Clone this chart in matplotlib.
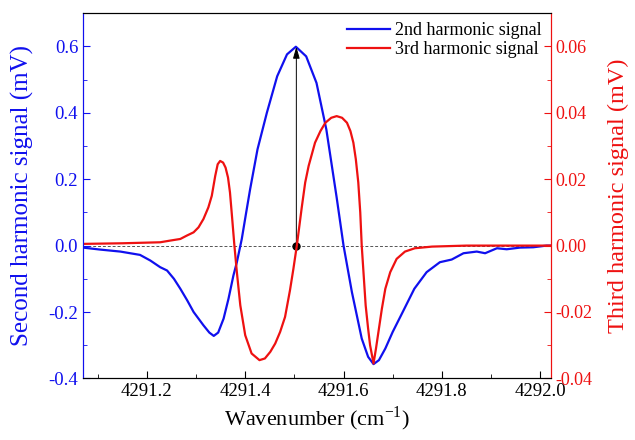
import matplotlib
matplotlib.use("Agg")
import matplotlib.pyplot as plt
from matplotlib.ticker import MultipleLocator

# ---- data ----
wn_2f = [4291.064, 4291.105, 4291.146, 4291.186, 4291.207, 4291.227, 4291.241, 4291.255,
         4291.268, 4291.282, 4291.295, 4291.315, 4291.327, 4291.336, 4291.345, 4291.356,
         4291.366, 4291.376, 4291.383, 4291.393, 4291.402, 4291.41, 4291.425, 4291.444,
         4291.465, 4291.485, 4291.503, 4291.524, 4291.545, 4291.565, 4291.586, 4291.600,
         4291.617, 4291.637, 4291.650, 4291.661, 4291.672, 4291.685, 4291.700, 4291.717,
         4291.744, 4291.769, 4291.796, 4291.820, 4291.844, 4291.871, 4291.888, 4291.912,
         4291.932, 4291.959, 4291.986, 4292.013, 4292.022]
sig_2f = [-0.005, -0.012, -0.018, -0.028, -0.045, -0.065, -0.075, -0.10,
          -0.13, -0.165, -0.20, -0.24, -0.262, -0.272, -0.262, -0.22,
          -0.16, -0.09, -0.05, 0.02, 0.10, 0.17, 0.29, 0.40,
          0.51, 0.576, 0.599, 0.57, 0.49, 0.35, 0.145, 0.0,
          -0.14, -0.28, -0.335, -0.357, -0.345, -0.31, -0.26, -0.21,
          -0.13, -0.08, -0.05, -0.042, -0.023, -0.018, -0.023, -0.008,
          -0.011, -0.006, -0.005, 0.0, 0.0]

wn_3f = [4291.064, 4291.15, 4291.227, 4291.247, 4291.268, 4291.281, 4291.295, 4291.305,
         4291.315, 4291.325, 4291.332, 4291.339, 4291.344, 4291.349, 4291.355, 4291.36,
         4291.365, 4291.369, 4291.373, 4291.378, 4291.383, 4291.39, 4291.40, 4291.413,
         4291.429, 4291.44, 4291.451, 4291.461, 4291.471, 4291.481, 4291.491, 4291.498,
         4291.505, 4291.515, 4291.522, 4291.529, 4291.542, 4291.553, 4291.563, 4291.575,
         4291.586, 4291.597, 4291.607, 4291.614, 4291.62, 4291.625, 4291.63, 4291.634,
         4291.637, 4291.641, 4291.645, 4291.65, 4291.654, 4291.661, 4291.666, 4291.671,
         4291.678, 4291.685, 4291.695, 4291.708, 4291.725, 4291.745, 4291.78, 4291.85,
         4292.022]
sig_3f = [0.0005, 0.0007, 0.001, 0.0015, 0.002, 0.003, 0.004, 0.0055,
          0.008, 0.0115, 0.015, 0.021, 0.0245, 0.0255, 0.025, 0.0235,
          0.0205, 0.016, 0.009, 0.0, -0.008, -0.018, -0.027, -0.0325,
          -0.0345, -0.034, -0.032, -0.0295, -0.026, -0.0215, -0.0135, -0.007,
          0.0, 0.0115, 0.019, 0.024, 0.031, 0.0345, 0.037, 0.0385,
          0.039, 0.0385, 0.037, 0.0345, 0.031, 0.026, 0.019, 0.010,
          0.0, -0.009, -0.018, -0.025, -0.030, -0.0355, -0.031, -0.026,
          -0.019, -0.013, -0.008, -0.004, -0.0018, -0.0008, -0.0003, 0.0,
          0.0]

peak_x = 4291.504
peak_y = 0.599

xticks = [4291.2, 4291.4, 4291.6, 4291.8, 4292.0]
left_ticks = [-0.4, -0.2, 0.0, 0.2, 0.4, 0.6]
right_ticks = [-0.04, -0.02, 0.00, 0.02, 0.04, 0.06]

BLUE = "#1010ee"
RED = "#ee1111"

plt.rcParams['font.family'] = ['Liberation Serif', 'DejaVu Serif']
plt.rcParams['mathtext.fontset'] = 'custom'
plt.rcParams['mathtext.rm'] = 'Liberation Serif'
plt.rcParams['axes.unicode_minus'] = False

fig = plt.figure(figsize=(6.35, 4.4), dpi=100)
ax = fig.add_axes([0.1307, 0.140, 0.737, 0.830])
ax2 = ax.twinx()

l1, = ax.plot(wn_2f, sig_2f, color=BLUE, lw=1.6, label="2nd harmonic signal")
l2, = ax2.plot(wn_3f, sig_3f, color=RED, lw=1.6, label="3rd harmonic signal")

ax.axhline(0, color="#555555", lw=0.7, ls=(0, (3, 2)), zorder=0)
ax.annotate("", xy=(peak_x, peak_y), xytext=(peak_x, 0),
            arrowprops=dict(arrowstyle="-|>,head_length=0.7,head_width=0.2",
                            color="black", lw=0.7, shrinkA=0, shrinkB=0))
ax.plot([peak_x], [0], 'o', color="black", ms=5, zorder=5)

ax.set_xlim(4291.07, 4292.022)
ax.set_ylim(-0.4, 0.7)
ax2.set_ylim(-0.04, 0.07)

ax.set_xticks(xticks)
ax.set_xticklabels([f"{v:.1f}" for v in xticks])
ax.xaxis.set_minor_locator(MultipleLocator(0.1))
ax.set_yticks(left_ticks)
ax.set_yticklabels([f"{v:.1f}" for v in left_ticks])
ax.yaxis.set_minor_locator(MultipleLocator(0.1))
ax2.set_yticks(right_ticks)
ax2.set_yticklabels([f"{v:.2f}" for v in right_ticks])
ax2.yaxis.set_minor_locator(MultipleLocator(0.01))

ax.tick_params(axis='both', which='both', direction='in', labelsize=13.5)
ax.tick_params(axis='both', which='major', length=5)
ax.tick_params(axis='both', which='minor', length=3)
ax.tick_params(axis='y', which='both', colors=BLUE)
ax.tick_params(axis='x', which='both', colors='black', top=False)
ax2.tick_params(axis='y', which='both', direction='in', colors=RED, labelsize=13)
ax2.tick_params(axis='y', which='major', length=5)
ax2.tick_params(axis='y', which='minor', length=3)

ax2.spines['left'].set_color(BLUE)
ax.spines['left'].set_color(BLUE)
ax2.spines['right'].set_color(RED)
ax.spines['right'].set_color(RED)

ax.set_xlabel("Wavenumber (cm$^{-1}$)", fontsize=16, labelpad=3)
ax.set_ylabel("Second harmonic signal (mV)", fontsize=18, color=BLUE, labelpad=10)
ax2.set_ylabel("Third harmonic signal (mV)", fontsize=17.5, color=RED, labelpad=11)

ax2.legend(handles=[l1, l2], loc='upper right', frameon=False, fontsize=13,
           handlelength=2.4, handletextpad=0.3, borderaxespad=0.1,
           labelspacing=0.1, bbox_to_anchor=(1.0, 1.0))

fig.savefig("out.png", dpi=100)
